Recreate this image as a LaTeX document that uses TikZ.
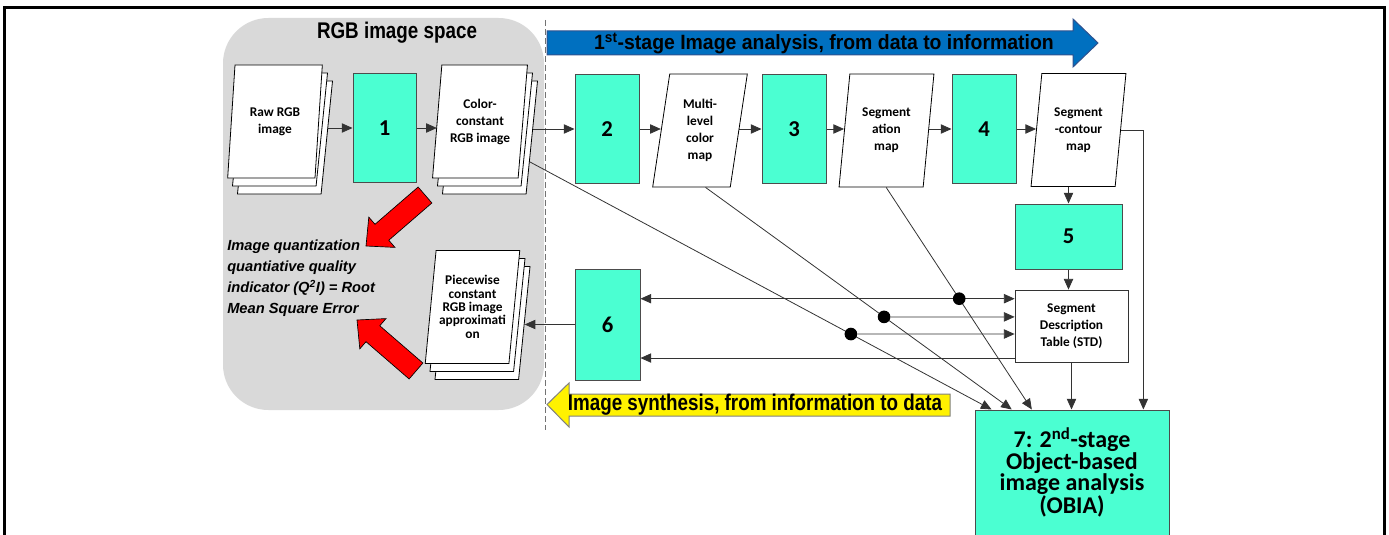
\documentclass[tikz,border=0pt]{standalone}
\usepackage{fontspec}
\setmainfont{Carlito}
\newfontfamily\narrowA{Liberation Sans}[FakeStretch=0.83]
\newfontfamily\narrowB{Liberation Sans}[FakeStretch=0.94]
\newfontfamily\arialf{Liberation Sans}
\usetikzlibrary{shapes.geometric,arrows.meta,calc}
\definecolor{tealbox}{HTML}{4BFFD2}
\definecolor{bluearr}{HTML}{0070C0}
\definecolor{bluebord}{HTML}{2F528F}
\definecolor{graybg}{HTML}{D9D9D9}
\pgfdeclarelayer{bg}
\pgfdeclarelayer{conn}
\pgfsetlayers{bg,conn,main}
\begin{document}
\begin{tikzpicture}[x=0.75pt,y=-0.75pt,
  proc/.style={draw=black!70, fill=tealbox, line width=0.75pt, inner sep=0pt,
    font=\bfseries\fontsize{17}{20}\selectfont},
  docpg/.style={trapezium, trapezium left angle=81, trapezium right angle=99,
    trapezium stretches=true, draw=black, fill=white, line width=0.6pt,
    minimum width=71.25pt, minimum height=84.75pt, inner sep=1pt, align=center,
    font=\bfseries\fontsize{10}{12.75}\selectfont},
  arr/.style={draw=black!80, line width=0.6pt, -{Triangle[length=8pt,width=7pt]}},
  arrtwo/.style={draw=black!80, line width=0.6pt, {Triangle[length=8pt,width=7pt]}-{Triangle[length=8pt,width=7pt]}},
  jdot/.style={circle, fill=black, inner sep=0pt, minimum size=9.5pt},
  redarr/.style={fill=red, draw=black, line width=0.5pt},
]
\useasboundingbox (0,0) rectangle (1389,535);

% frame
\draw[line width=2.25pt] (4.5,540) -- (4.5,7.7) -- (1384.7,7.7) -- (1384.7,540);

% gray region
\begin{pgfonlayer}{bg}
\fill[graybg, rounded corners=34pt] (223,18) rectangle (544,410);
\draw[black!55, line width=0.75pt, dash pattern=on 4.5pt off 2.25pt] (545,20) -- (545,430);
\end{pgfonlayer}

\node[font=\narrowA\bfseries\fontsize{17}{20}\selectfont] (title) at (397,33) {RGB image space};

% blue arrow
\draw[fill=bluearr, draw=bluebord, line width=0.75pt] (547,31) -- (1073,31) -- (1073,19) -- (1098,43) -- (1073,67) -- (1073,55) -- (547,55) -- cycle;
\node[font=\narrowB\bfseries\fontsize{15.5}{18}\selectfont] (bluetxt) at (824,43) {1\textsuperscript{st}-stage Image analysis, from data to information};

% yellow arrow
\draw[fill=yellow, draw=black!50, line width=0.75pt] (950,394) -- (569,394) -- (569,383) -- (547,404.5) -- (569,427) -- (569,416) -- (950,416) -- cycle;
\node[font=\narrowA\bfseries\fontsize{17}{20}\selectfont] (yeltxt) at (755,405) {Image synthesis, from information to data};

% process boxes
\node[proc, minimum width=47.25pt, minimum height=81pt] (b1) at (384.5,128) {1};
\node[proc, minimum width=48pt, minimum height=81pt] (b2) at (607,129) {2};
\node[proc, minimum width=48pt, minimum height=81pt] (b3) at (794,129) {3};
\node[proc, minimum width=48pt, minimum height=81pt] (b4) at (984,129) {4};
\node[proc, minimum width=80.25pt, minimum height=48.75pt] (b5) at (1068.5,236.5) {5};
\node[proc, minimum width=48.75pt, minimum height=83.25pt] (b6) at (607.5,324.5) {6};
\node[proc, minimum width=145.5pt, minimum height=93.75pt, align=center,
  font=\bfseries\fontsize{18}{16}\selectfont] (b7) at (1072,472.5)
  {7: 2\textsuperscript{nd}-stage\\Object-based\\image analysis\\(OBIA)};
\node[draw=black!80, fill=white, line width=0.6pt, minimum width=84.75pt, minimum height=54pt,
  align=center, inner sep=0pt, font=\bfseries\fontsize{10}{12.75}\selectfont] (std) at (1071.5,326)
  {Segment\\Description\\Table (STD)};

% documents
\node[docpg] (raw-b2) at (285,137.5) {};
\node[docpg] (raw-b1) at (280,129.5) {};
\node[docpg] (raw) at (275,121.5) {Raw RGB\\image};
\node[docpg] (cc-b2) at (490,137.5) {};
\node[docpg] (cc-b1) at (485,129.5) {};
\node[docpg] (cc) at (480,121.5) {Color-\\constant\\RGB image};
\node[docpg] (pw-b2) at (482.5,323) {};
\node[docpg] (pw-b1) at (477.5,315) {};
\node[docpg, font=\bfseries\fontsize{10}{10}\selectfont] (pw) at (472.5,307) {Piecewise\\constant\\RGB image\\approximati\\on};
\node[docpg] (multi) at (700,130.5) {Multi-\\level\\color\\map};
\node[docpg] (seg) at (886.5,130.5) {Segment\\ation\\map};
\node[docpg] (sc) at (1078.5,130) {Segment\\-contour\\map};

% italic text
\node[anchor=west, align=left, inner sep=0pt,
  font=\arialf\bfseries\itshape\fontsize{11}{15.75}\selectfont] (q2i) at (227,278.5)
  {Image quantization\\quantiative quality\\indicator (Q\textsuperscript{2}I) = Root\\Mean Square Error};

% red arrows
\coordinate (ra1t) at (425,195);
\coordinate (ra1h) at (366,246);
\coordinate (ra1b) at ($(ra1h)!15.75pt!(ra1t)$);
\draw[redarr] ($(ra1t)!7.9pt!90:(ra1h)$) -- ($(ra1b)!7.9pt!90:(ra1h)$) -- ($(ra1b)!15pt!90:(ra1h)$)
  -- (ra1h) -- ($(ra1b)!15pt!-90:(ra1h)$) -- ($(ra1b)!7.9pt!-90:(ra1h)$) -- ($(ra1t)!7.9pt!-90:(ra1h)$) -- cycle;
\coordinate (ra2t) at (416,371);
\coordinate (ra2h) at (357,320);
\coordinate (ra2b) at ($(ra2h)!15.75pt!(ra2t)$);
\draw[redarr] ($(ra2t)!7.9pt!90:(ra2h)$) -- ($(ra2b)!7.9pt!90:(ra2h)$) -- ($(ra2b)!15pt!90:(ra2h)$)
  -- (ra2h) -- ($(ra2b)!15pt!-90:(ra2h)$) -- ($(ra2b)!7.9pt!-90:(ra2h)$) -- ($(ra2t)!7.9pt!-90:(ra2h)$) -- cycle;

% helper coordinates
\coordinate (k7a) at ($(b7.north west)!0.0876!(b7.north east)$);
\coordinate (k7b) at ($(b7.north west)!0.191!(b7.north east)$);
\coordinate (k7c) at ($(b7.north west)!0.294!(b7.north east)$);
\coordinate (k7d) at ($(b7.north west)!0.866!(b7.north east)$);
\coordinate (ccsrc) at ($(cc.top right corner)!0.81!(cc.bottom right corner)$);
\coordinate (mlsrc) at ($(multi.bottom left corner)!0.68!(multi.bottom right corner)$);
\coordinate (sgsrc) at ($(seg.bottom left corner)!0.56!(seg.bottom right corner)$);
\coordinate (s1) at ($(std.north west)!0.125!(std.south west)$);
\coordinate (s2) at ($(std.north west)!0.375!(std.south west)$);
\coordinate (s3) at ($(std.north west)!0.61!(std.south west)$);
\coordinate (s4) at ($(std.north west)!0.94!(std.south west)$);
\coordinate (s1w) at (b6.east |- s1);
\coordinate (s2w) at (b6.east |- s2);
\coordinate (s3w) at (b6.east |- s3);
\coordinate (s4w) at (b6.east |- s4);
\node[jdot] (d1) at (intersection of sgsrc--k7c and s1--s1w) {};
\node[jdot] (d2) at (intersection of mlsrc--k7b and s2--s2w) {};
\node[jdot] (d3) at (intersection of ccsrc--k7a and s3--s3w) {};

\begin{pgfonlayer}{conn}
\draw[arr] (raw-b2.east |- b1.west) -- (b1.west);
\draw[arr] (b1.east) -- (cc.west |- b1.east);
\draw[arr] (cc-b2.east |- b2.west) -- (b2.west);
\draw[arr] (b2.east) -- (multi.west |- b2.east);
\draw[arr] (multi.east |- b3.west) -- (b3.west);
\draw[arr] (b3.east) -- (seg.west |- b3.east);
\draw[arr] (seg.east |- b4.west) -- (b4.west);
\draw[arr] (b4.east) -- (sc.west |- b4.east);
\draw[arr] (sc.south -| b5.north) -- (b5.north);
\draw[arr] (b5.south) -- (b5.south |- std.north);
\draw[arr] (std.south) -- (std.south |- b7.north);
\draw[arr] (sc.east) -| (k7d);
\draw[arr] (ccsrc) -- (k7a);
\draw[arr] (mlsrc) -- (k7b);
\draw[arr] (sgsrc) -- (k7c);
\draw[arrtwo] (s1w) -- (s1);
\draw[arr] (d2) -- (s2);
\draw[arr] (d3) -- (s3);
\draw[arr] (s4) -- (s4w);
\draw[arr] (b6.west) -- (pw-b2.east |- b6.west);
\end{pgfonlayer}
\end{tikzpicture}
\end{document}
